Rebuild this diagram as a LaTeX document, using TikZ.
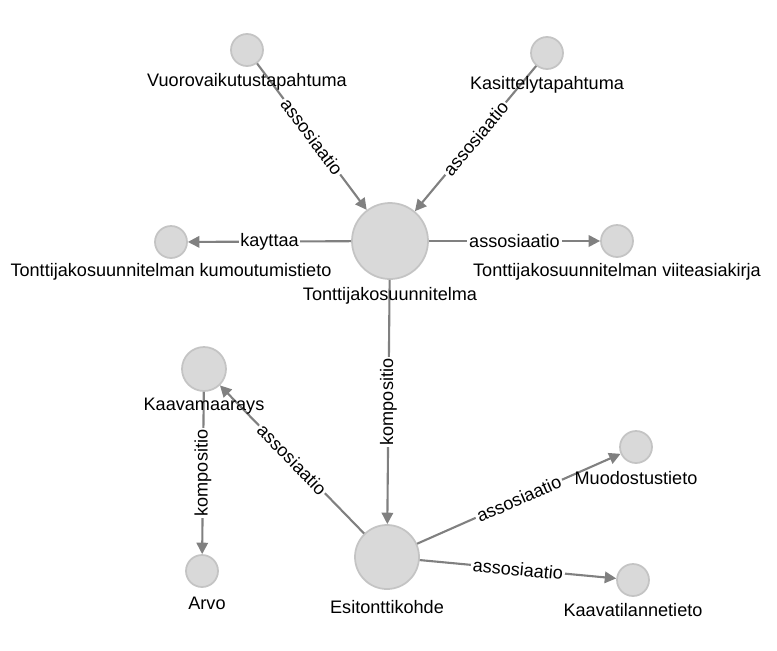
\documentclass[tikz,border=0pt]{standalone}
\usepackage{fontspec}
\setmainfont{Liberation Sans}
\usetikzlibrary{arrows.meta}
\definecolor{nodegray}{HTML}{D9D9D9}
\definecolor{rimgray}{HTML}{C4C4C4}
\definecolor{edgegray}{HTML}{808080}
\begin{document}
\begin{tikzpicture}[x=0.02cm, y=-0.02cm,
    every node/.style={font=\fontsize{10.3}{12}\selectfont},
    ent/.style={circle, draw=rimgray, line width=1pt, fill=nodegray, inner sep=0pt},
    rel/.style={draw=edgegray, line width=1.2pt, -{Triangle[length=6.5pt,width=6.5pt]}},
    lbl/.style={fill=white, inner sep=1pt}]
    \useasboundingbox (0,0) rectangle (777,650);
    % Entities
    \node[ent, minimum size=32*0.02cm] (vuoro) at (247,50) {};
    \node[ent, minimum size=32*0.02cm] (kasit) at (547,53) {};
    \node[ent, minimum size=76*0.02cm] (tontti) at (390,241) {};
    \node[ent, minimum size=32*0.02cm] (kumou) at (171,242) {};
    \node[ent, minimum size=32*0.02cm] (viite) at (617,241) {};
    \node[ent, minimum size=44*0.02cm] (kaava) at (204,369) {};
    \node[ent, minimum size=32*0.02cm] (arvo) at (202,571) {};
    \node[ent, minimum size=64*0.02cm] (esi) at (387,557) {};
    \node[ent, minimum size=32*0.02cm] (muod) at (636,447) {};
    \node[ent, minimum size=32*0.02cm] (tila) at (633,580) {};

    % Edges
    \draw[rel] (vuoro) -- node[lbl, sloped] {assosiaatio} (tontti);
    \draw[rel] (kasit) -- node[lbl, sloped] {assosiaatio} (tontti);
    \draw[rel] (tontti) -- node[lbl] {kayttaa} (kumou);
    \draw[rel] (tontti) -- node[lbl] {assosiaatio} (viite);
    \draw[rel] (tontti) -- node[lbl, rotate=90] {kompositio} (esi);
    \draw[rel] (kaava) -- node[lbl, rotate=90] {kompositio} (arvo);
    \draw[rel] (esi) -- node[lbl, sloped] {assosiaatio} (kaava);
    \draw[rel] (esi) -- node[lbl, sloped] {assosiaatio} (muod);
    \draw[rel] (esi) -- node[lbl, sloped] {assosiaatio} (tila);

    % Entity names
    \node (vuorot) at (247,82) {Vuorovaikutustapahtuma};
    \node (kasitt) at (547,85) {Kasittelytapahtuma};
    \node (tonttit) at (390,296) {Tonttijakosuunnitelma};
    \node (kumout) at (171,272) {Tonttijakosuunnitelman kumoutumistieto};
    \node (viitet) at (617,272) {Tonttijakosuunnitelman viiteasiakirja};
    \node (kaavat) at (204,406) {Kaavamaarays};
    \node (arvot) at (207,603) {Arvo};
    \node (esit) at (387,607) {Esitonttikohde};
    \node (muodt) at (636,478) {Muodostustieto};
    \node (tilat) at (633,610) {Kaavatilannetieto};
\end{tikzpicture}
\end{document}
